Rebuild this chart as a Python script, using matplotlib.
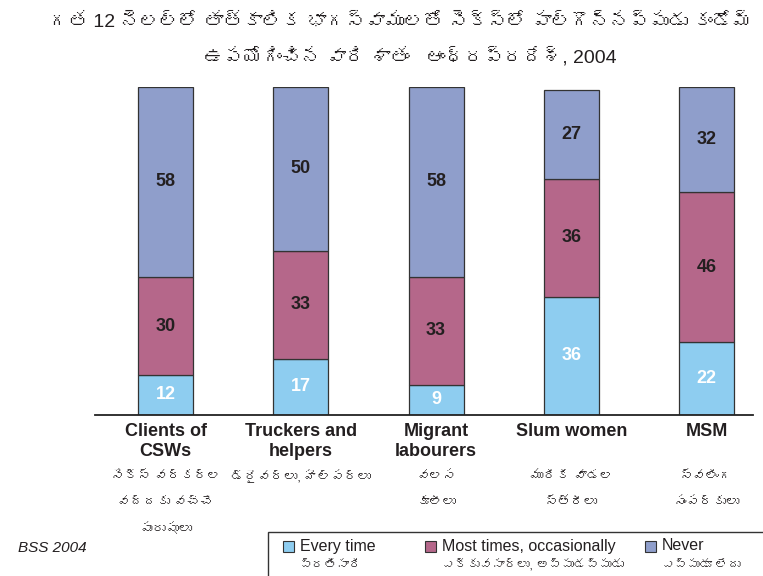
import matplotlib
matplotlib.use("Agg")
import matplotlib.pyplot as plt
from matplotlib import font_manager as fm
from matplotlib.ft2font import FT2Font
from matplotlib.patches import Rectangle

# data
groups_en = ["Clients of\nCSWs", "Truckers and\nhelpers", "Migrant\nlabourers", "Slum women", "MSM"]
groups_te = ["సెక్స్ వర్కర్ల\nవద్దకు వచ్చే\nపురుషులు", "డ్రైవర్లు, హెల్పర్లు", "వలస\nకూలీలు",
             "మురికి వాడల\nస్త్రీలు", "స్వలింగ\nసంపర్కులు"]
every_time = [12, 17, 9, 36, 22]
most_times = [30, 33, 33, 36, 46]
never = [58, 50, 58, 27, 32]
series_en = ["Every time", "Most times, occasionally", "Never"]
series_te = ["ప్రతిసారి", "ఎక్కువసార్లు, అప్పుడప్పుడు", "ఎప్పుడూ లేదు"]
colors = ["#8ECDF0", "#B5678A", "#8F9ECB"]
title1 = "గత 12 నెలల్లో తాత్కాలిక భాగస్వాములతో సెక్స్లో పాల్గొన్నప్పుడు కండోమ్"
title2 = "ఉపయోగించిన వారి శాతం   ఆంధ్రప్రదేశ్, 2004"


# look for a font that has Telugu glyphs
def find_font(ch):
    for f in fm.fontManager.ttflist:
        try:
            if ord(ch) in FT2Font(f.fname).get_charmap():
                return f.name
        except Exception:
            pass
    return None


te_font = find_font("త")
fam = ["Liberation Sans", "DejaVu Sans"]
te_fam = ["Liberation Sans"] + ([te_font] if te_font else []) + ["DejaVu Sans"]
plt.rcParams["font.family"] = fam

W, H = 763, 576
fig = plt.figure(figsize=(W / 100, H / 100), dpi=100)
ax = fig.add_axes([95 / W, 1 - 414.5 / H, 658 / W, 327.5 / H])


def px(x, y):
    # pixel position (from top-left) to figure fraction
    return x / W, 1 - y / H


x = list(range(len(every_time)))
bottom = [0] * len(x)
for vals, col, i in zip([every_time, most_times, never], colors, range(3)):
    ax.bar(x, vals, width=0.407, bottom=bottom, color=col, edgecolor="#333333", linewidth=0.9, zorder=2)
    for xi, b, v in zip(x, bottom, vals):
        ax.text(xi, b + v / 2, str(v), ha="center", va="center", fontsize=13, fontweight="bold",
                color="white" if i == 0 else "#231F20")
    bottom = [b + v for b, v in zip(bottom, vals)]

ax.set_xlim(-0.522, 4.344)
ax.set_ylim(0, 100)
for s in ["top", "right", "left"]:
    ax.spines[s].set_visible(False)
ax.spines["bottom"].set_linewidth(1.3)
ax.spines["bottom"].set_color("#222222")
ax.set_xticks([])
ax.set_yticks([])

# category labels
for xi, en, te in zip(x, groups_en, groups_te):
    for k, line in enumerate(en.split("\n")):
        ax.annotate(line, xy=(xi, 0), xycoords=("data", "axes fraction"),
                    xytext=(0, -(17.5 + 20 * k) * 0.72), textcoords="offset points",
                    ha="center", va="center", fontsize=13, fontweight="bold", color="#231F20")
    for k, line in enumerate(te.split("\n")):
        ax.annotate(line, xy=(xi, 0), xycoords=("data", "axes fraction"),
                    xytext=(0, -(63 + 26 * k) * 0.72), textcoords="offset points",
                    ha="center", va="center", fontsize=9.5, color="#231F20", family=te_fam)

# title, shrink the first line until it fits the width
t1 = fig.text(*px(400, 22), title1, ha="center", va="center", fontsize=14, color="#231F20", family=te_fam)
fig.text(*px(410, 57), title2, ha="center", va="center", fontsize=14, color="#231F20", family=te_fam)
renderer = fig.canvas.get_renderer()
while t1.get_window_extent(renderer).width > 740 and t1.get_fontsize() > 8:
    t1.set_fontsize(t1.get_fontsize() - 0.5)

# source
fig.text(*px(18, 548), "BSS 2004", ha="left", va="center", fontsize=11, style="italic", color="#231F20")

# legend box
fig.patches.append(Rectangle(px(268, 590), 520 / W, 58 / H, transform=fig.transFigure,
                             facecolor="white", edgecolor="#333333", linewidth=1.0))
for sx, en, te, col in zip([283, 425, 645], series_en, series_te, colors):
    fig.patches.append(Rectangle(px(sx, 552), 11 / W, 11 / H, transform=fig.transFigure,
                                 facecolor=col, edgecolor="#333333", linewidth=0.8))
    fig.text(*px(sx + 17, 546), en, ha="left", va="center", fontsize=11.5, color="#231F20")
    fig.text(*px(sx + 17, 566), te, ha="left", va="center", fontsize=9, color="#231F20", family=te_fam)

fig.savefig("out.png", dpi=100)
